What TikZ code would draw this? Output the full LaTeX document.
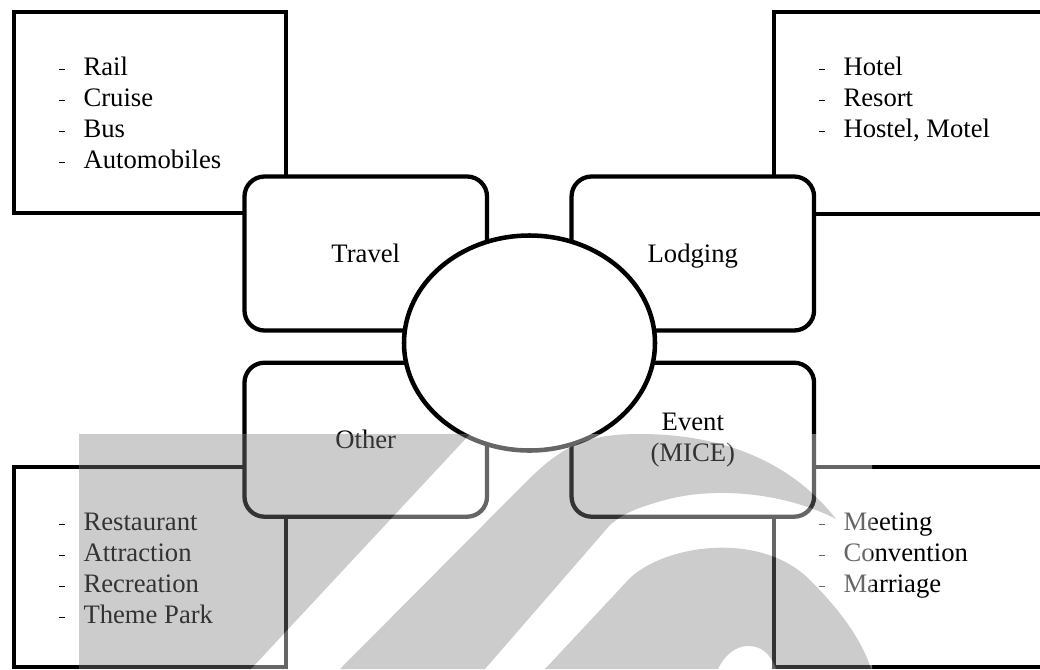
\documentclass[tikz,border=0pt]{standalone}
\usepackage{fontspec}
\setmainfont{Liberation Serif}
\usetikzlibrary{positioning,shapes.geometric}

\definecolor{wmgrey}{gray}{0.5}
\newcommand{\itm}[1]{\makebox[19.3pt][l]{\hspace{0.9pt}\rule[3.7pt]{4.5pt}{0.9pt}}#1}
% watermark pieces (pixel coordinates)
\newcommand{\wmA}{(79,434) -- (470,434) -- (251,669) -- (79,669) -- cycle}
\newcommand{\wmB}{(340,669) -- (530,478) .. controls (565,444) and (590,434) .. (640,434) .. controls (720,434) and (790,460) .. (836,519) .. controls (790,495) and (720,485) .. (665,500) .. controls (640,507) and (625,512) .. (610,525) -- (485,669) -- cycle}
\newcommand{\wmC}{(545,669) -- (630,578) .. controls (665,545) and (760,530) .. (810,580) .. controls (840,610) and (862,640) .. (871,669) -- (776,669) .. controls (770,652) and (760,646) .. (748,646) .. controls (735,646) and (724,656) .. (718,669) -- cycle}

\begin{document}
\begin{tikzpicture}[x=0.75pt, y=-0.75pt,
    every node/.style={font=\fontsize{20}{23.25}\selectfont},
    listbox/.style={draw, line width=3.2pt, fill=white, inner sep=0pt, outer sep=0pt},
    hub/.style={draw, line width=3.2pt, fill=white, rounded corners=15pt, inner sep=0pt, outer sep=0pt, minimum width=181.9pt, minimum height=115.5pt},
    items/.style={anchor=base west, inner sep=0pt}]

    \useasboundingbox (0,0) rectangle (1040,669);
    \clip (0,0) rectangle (1040,669);

    % outer boxes
    \node[listbox, minimum width=204pt, minimum height=150.75pt] (transbox) at (150,112.5) {};
    \node[listbox, minimum width=244.5pt, minimum height=151.5pt] (lodgebox) at (937,113) {};
    \node[listbox, minimum width=204pt, minimum height=150pt] (otherbox) at (150,567) {};
    \node[listbox, minimum width=244.5pt, minimum height=150pt] (eventbox) at (937,567) {};

    % the four sectors
    \node[hub] (travel) at (365.75,253.5) {Travel};
    \node[hub, right=63.4pt of travel, text depth=0pt] (lodging) {Lodging};
    \node[hub, below=24.15pt of travel] (other) {Other};
    \node[hub, below=24.15pt of lodging, align=center] (event) {Event\\(MICE)};

    \node[draw, line width=3.4pt, fill=white, ellipse, inner sep=0pt, outer sep=0pt,
          minimum width=188.25pt, minimum height=161.25pt] (core) at (529.5,343) {};

    % lists
    \node[items] (transitems) at (57.5,75) {\begin{tabular}[t]{@{}l@{}}\itm{Rail}\\ \itm{Cruise}\\ \itm{Bus}\\ \itm{Automobiles}\end{tabular}};
    \node[items] (lodgeitems) at (817.5,75) {\begin{tabular}[t]{@{}l@{}}\itm{Hotel}\\ \itm{Resort}\\ \itm{Hostel, Motel}\end{tabular}};
    \node[items] (otheritems) at (57.5,530) {\begin{tabular}[t]{@{}l@{}}\itm{Restaurant}\\ \itm{Attraction}\\ \itm{Recreation}\\ \itm{Theme Park}\end{tabular}};
    \node[items] (eventitems) at (817.5,530) {\begin{tabular}[t]{@{}l@{}}\itm{Meeting}\\ \itm{Convention}\\ \itm{Marriage}\end{tabular}};

    % watermark
    \fill[white, fill opacity=0.4, even odd rule] (79,434) rectangle (872,669) \wmA \wmB \wmC;
    \fill[wmgrey, fill opacity=0.4] \wmA \wmB \wmC;
\end{tikzpicture}
\end{document}
